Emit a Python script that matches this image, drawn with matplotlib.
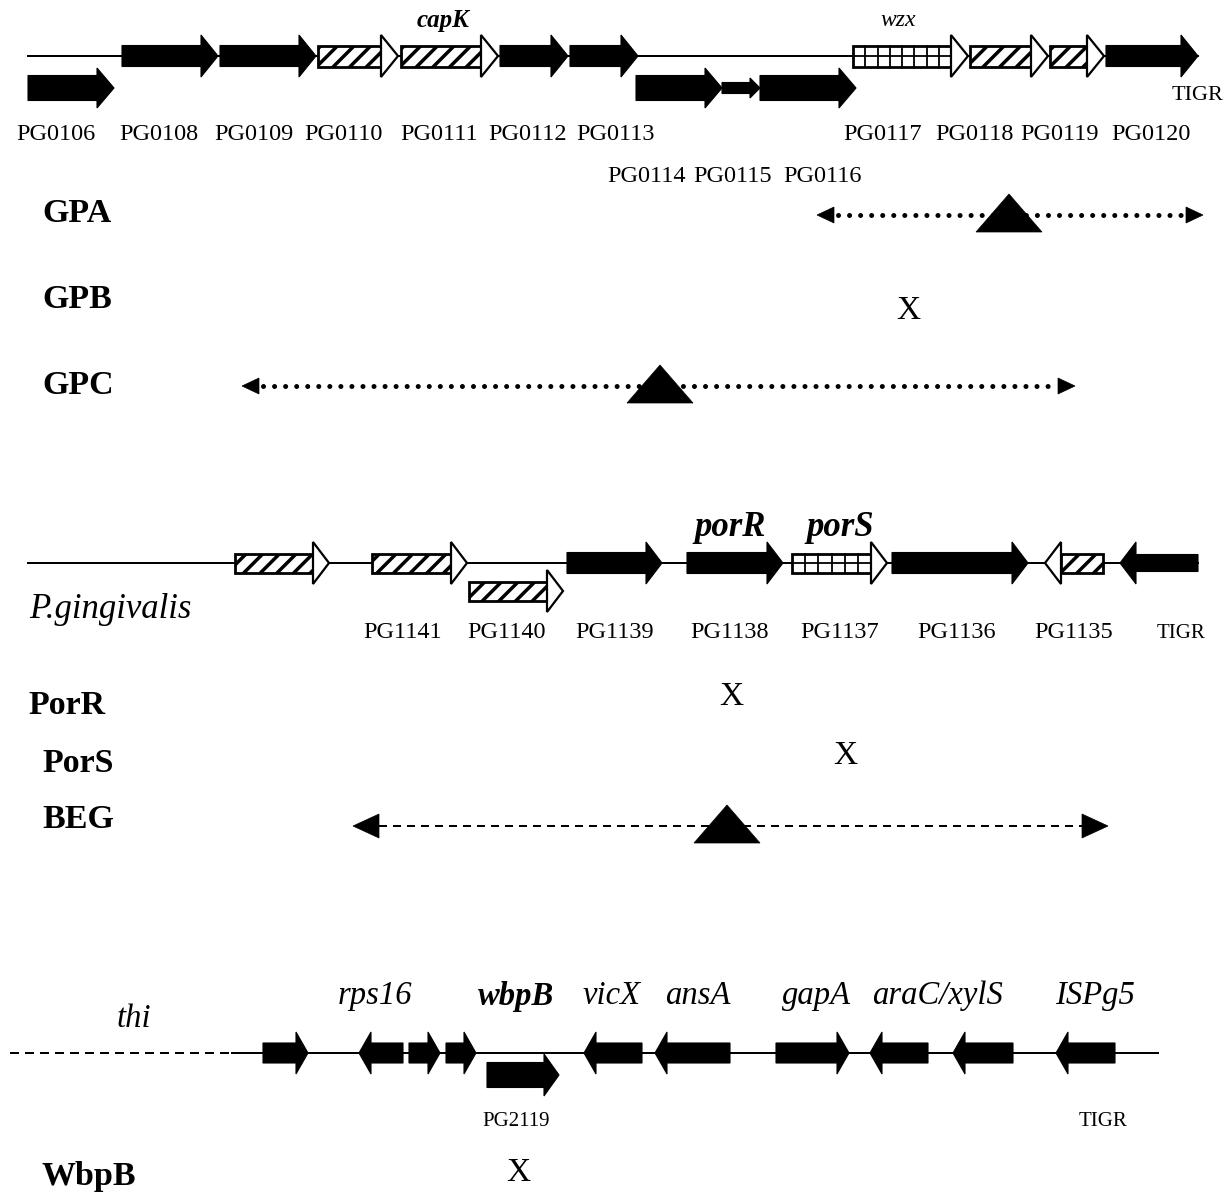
import matplotlib
matplotlib.use("Agg")
import matplotlib.pyplot as plt
from matplotlib.patches import Polygon, Rectangle

plt.rcParams['font.family'] = ['Liberation Serif', 'DejaVu Serif']
plt.rcParams['hatch.linewidth'] = 2.5

# ---------------- data ----------------
# Cluster 1 (capsule locus)
c1_labels = ['PG0106', 'PG0108', 'PG0109', 'PG0110', 'PG0111', 'PG0112', 'PG0113',
             'PG0114', 'PG0115', 'PG0116', 'PG0117', 'PG0118', 'PG0119', 'PG0120']
c1_start = [28, 122, 220, 318, 401, 500, 570, 636, 722, 760, 853, 970, 1050, 1106]
c1_end = [114, 218, 316, 398, 498, 568, 638, 722, 760, 856, 968, 1048, 1104, 1198]
c1_lane = [1, 0, 0, 0, 0, 0, 0, 1, 1, 1, 0, 0, 0, 0]
c1_kind = ['solid', 'solid', 'solid', 'hatch', 'hatch', 'solid', 'solid',
           'solid', 'small', 'solid', 'grid', 'hatch', 'hatch', 'solid']
c1_strand = [1] * 14
c1_label_x = [56, 159, 254, 343, 439, 528, 616, 647, 733, 823, 883, 974, 1060, 1151]
c1_label_row = [0, 0, 0, 0, 0, 0, 0, 1, 1, 1, 0, 0, 0, 0]
c1_gene_names = ['capK', 'wzx']
c1_gene_name_x = [443, 898]
c1_gene_name_style = ['bolditalic', 'italic']

# Cluster 2 (porR locus)
c2_labels = ['', 'PG1141', 'PG1140', 'PG1139', 'PG1138', 'PG1137', 'PG1136', 'PG1135', 'TIGR']
c2_start = [235, 372, 469, 567, 687, 792, 892, 1045, 1120]
c2_end = [329, 467, 563, 662, 783, 887, 1028, 1103, 1198]
c2_lane = [0, 0, 1, 0, 0, 0, 0, 0, 0]
c2_kind = ['hatch', 'hatch', 'hatch', 'solid', 'solid', 'grid', 'solid', 'hatch', 'thin']
c2_strand = [1, 1, 1, 1, 1, 1, 1, -1, -1]
c2_label_x = [0, 403, 507, 615, 730, 840, 957, 1074, 1181]
c2_gene_names = ['porR', 'porS']
c2_gene_name_x = [730, 840]

# Cluster 3 (wbpB locus)
c3_start = [263, 359, 409, 446, 487, 584, 655, 776, 870, 953, 1056]
c3_end = [308, 403, 440, 476, 559, 642, 730, 849, 928, 1013, 1115]
c3_lane = [0, 0, 0, 0, 1, 0, 0, 0, 0, 0, 0]
c3_strand = [1, -1, 1, 1, 1, -1, -1, 1, -1, -1, -1]
c3_gene_names = ['rps16', 'wbpB', 'vicX', 'ansA', 'gapA', 'araC/xylS', 'ISPg5']
c3_gene_name_x = [375, 516, 612, 698, 816, 937, 1095]
c3_bold = [False, True, False, False, False, False, False]

# Mutants
mut_labels = ['GPA', 'GPB', 'GPC', 'PorR', 'PorS', 'BEG', 'WbpB']
mut_label_x = [42, 42, 42, 28, 42, 42, 42]
mut_label_y = [214, 300, 386, 706, 763, 819, 1176]
# insertion mutants: span of insert effect and insertion point
ins_names = ['GPA', 'GPC', 'BEG']
ins_from = [817, 242, 353]
ins_to = [1203, 1075, 1108]
ins_site = [1009, 660, 727]
ins_y = [215, 386, 826]
ins_style = ['dotted', 'dotted', 'dashed']
# deletion mutants: marked with X
del_names = ['GPB', 'PorR', 'PorS', 'WbpB']
del_x = [908, 731, 845, 518]
del_y = [311, 697, 756, 1173]

# ---------------- drawing ----------------
W, H = 1230, 1192
fig = plt.figure(figsize=(W / 100, H / 100), dpi=100)
ax = fig.add_axes([0, 0, 1, 1])
ax.set_xlim(0, W)
ax.set_ylim(H, 0)
ax.axis('off')

LW = 1.44  # 2 px


def arrow_pts(start, end, strand, yc, bh, hh, hl):
    if strand > 0:
        b = end - hl
        return [(start, yc - bh), (b, yc - bh), (b, yc - hh), (end, yc),
                (b, yc + hh), (b, yc + bh), (start, yc + bh)]
    b = start + hl
    return [(end, yc - bh), (b, yc - bh), (b, yc - hh), (start, yc),
            (b, yc + hh), (b, yc + bh), (end, yc + bh)]


def draw_gene(start, end, strand, yc, kind, bh=10, hh=21, hl=17):
    if kind == 'small':
        bh, hh, hl = 5.5, 10, 10
    if kind == 'thin':
        bh = 8.5
    if kind in ('solid', 'small', 'thin'):
        ax.add_patch(Polygon(arrow_pts(start, end, strand, yc, bh, hh, hl),
                             closed=True, fc='black', ec='black', lw=0.8, zorder=3))
        return
    if strand > 0:
        b0, b1 = start, end - hl
        head = [(b1, yc - hh), (end, yc), (b1, yc + hh)]
    else:
        b0, b1 = start + hl, end
        head = [(b0, yc - hh), (start, yc), (b0, yc + hh)]
    if kind == 'hatch':
        ax.add_patch(Rectangle((b0, yc - bh), b1 - b0, 2 * bh, fc='white', ec='black',
                               hatch='//', lw=2.0, zorder=3))
    else:  # grid
        ax.add_patch(Rectangle((b0, yc - bh), b1 - b0, 2 * bh, fc='white', ec='black',
                               lw=2.0, zorder=3))
        n = max(1, int(round((b1 - b0) / 12.5)))
        step = (b1 - b0) / n
        for i in range(1, n):
            ax.plot([b0 + i * step] * 2, [yc - bh, yc + bh], color='black', lw=1.3, zorder=4)
        ax.plot([b0, b1], [yc, yc], color='black', lw=1.3, zorder=4)
    ax.add_patch(Polygon(head, closed=True, fc='white', ec='black', lw=1.6, zorder=3))


# Cluster 1
y1, y1b = 56, 88
ax.plot([28, 1198], [y1, y1], color='black', lw=LW, zorder=1)
for s, e, ln, k, st in zip(c1_start, c1_end, c1_lane, c1_kind, c1_strand):
    yc = y1 if ln == 0 else y1b
    bh = 10.5 if ln == 0 else 12.5
    draw_gene(s, e, st, yc, k, bh=bh, hh=21 if ln == 0 else 20, hl=17)
for lab, lx, rw in zip(c1_labels, c1_label_x, c1_label_row):
    ax.text(lx, 134 if rw == 0 else 177, lab, fontsize=17.5, ha='center', va='center')
for nm, nx, stl in zip(c1_gene_names, c1_gene_name_x, c1_gene_name_style):
    ax.text(nx, 21, nm, fontsize=18 if stl == 'bolditalic' else 17, style='italic',
            weight='bold' if stl == 'bolditalic' else 'normal', ha='center', va='center')
ax.text(1197, 96, 'TIGR', fontsize=16, ha='center', va='center')

# Cluster 2
y2, y2b = 563, 591
ax.plot([28, 1198], [y2, y2], color='black', lw=LW, zorder=1)
for s, e, ln, k, st in zip(c2_start, c2_end, c2_lane, c2_kind, c2_strand):
    yc = y2 if ln == 0 else y2b
    bh = 9.5 if k in ('hatch', 'grid') else 10.5
    draw_gene(s, e, st, yc, k, bh=bh, hh=21, hl=16)
for lab, lx in zip(c2_labels, c2_label_x):
    if lab:
        ax.text(lx, 633, lab, fontsize=15 if lab == 'TIGR' else 17.5,
                ha='center', va='center')
for nm, nx in zip(c2_gene_names, c2_gene_name_x):
    ax.text(nx, 528, nm, fontsize=25, style='italic', weight='bold',
            ha='center', va='center')
ax.text(29, 610, 'P.gingivalis', fontsize=25, style='italic', ha='left', va='center')

# Cluster 3
y3, y3b = 1053, 1075
ax.plot([10, 232], [y3, y3], color='black', lw=LW, linestyle=(0, (4.5, 3)), zorder=1)
ax.plot([232, 1158], [y3, y3], color='black', lw=LW, zorder=1)
for s, e, ln, st in zip(c3_start, c3_end, c3_lane, c3_strand):
    if ln == 0:
        draw_gene(s, e, st, y3, 'solid', bh=10, hh=21, hl=12)
    else:
        draw_gene(s, e, st, y3b, 'solid', bh=12.5, hh=21, hl=15)
for nm, nx, bd in zip(c3_gene_names, c3_gene_name_x, c3_bold):
    ax.text(nx, 996, nm, fontsize=23.5, style='italic', weight='bold' if bd else 'normal',
            ha='center', va='center')
ax.text(134, 1019, 'thi', fontsize=23.5, style='italic', ha='center', va='center')
ax.text(516, 1122, 'PG2119', fontsize=15, ha='center', va='center')
ax.text(1103, 1122, 'TIGR', fontsize=15, ha='center', va='center')

# Mutant labels
for lab, lx, ly in zip(mut_labels, mut_label_x, mut_label_y):
    ax.text(lx, ly, lab, fontsize=24.5, weight='bold', ha='left', va='center')

# Insertion mutants
for x0, x1, xi, yy, ls in zip(ins_from, ins_to, ins_site, ins_y, ins_style):
    if ls == 'dotted':
        hl, hh = 17, 8
        ax.plot([x0 + hl + 4, x1 - hl - 4], [yy, yy], color='black', lw=3.6,
                linestyle=(0, (0.01, 2.2)), dash_capstyle='round', zorder=2)
    else:
        hl, hh = 26, 12
        ax.plot([x0 + hl, x1 - hl], [yy, yy], color='black', lw=LW,
                linestyle=(0, (4, 3)), zorder=2)
    ax.add_patch(Polygon([(x0, yy), (x0 + hl, yy - hh), (x0 + hl, yy + hh)],
                         closed=True, fc='black', ec='black', lw=0.5, zorder=3))
    ax.add_patch(Polygon([(x1, yy), (x1 - hl, yy - hh), (x1 - hl, yy + hh)],
                         closed=True, fc='black', ec='black', lw=0.5, zorder=3))
    ax.add_patch(Polygon([(xi, yy - 21), (xi - 33, yy + 17), (xi + 33, yy + 17)],
                         closed=True, fc='black', ec='black', lw=0.5, zorder=4))

# Deletion mutants
for xx, yy in zip(del_x, del_y):
    ax.text(xx, yy, 'X', fontsize=24, ha='center', va='center')

fig.savefig('out.png', dpi=100, facecolor='white')
